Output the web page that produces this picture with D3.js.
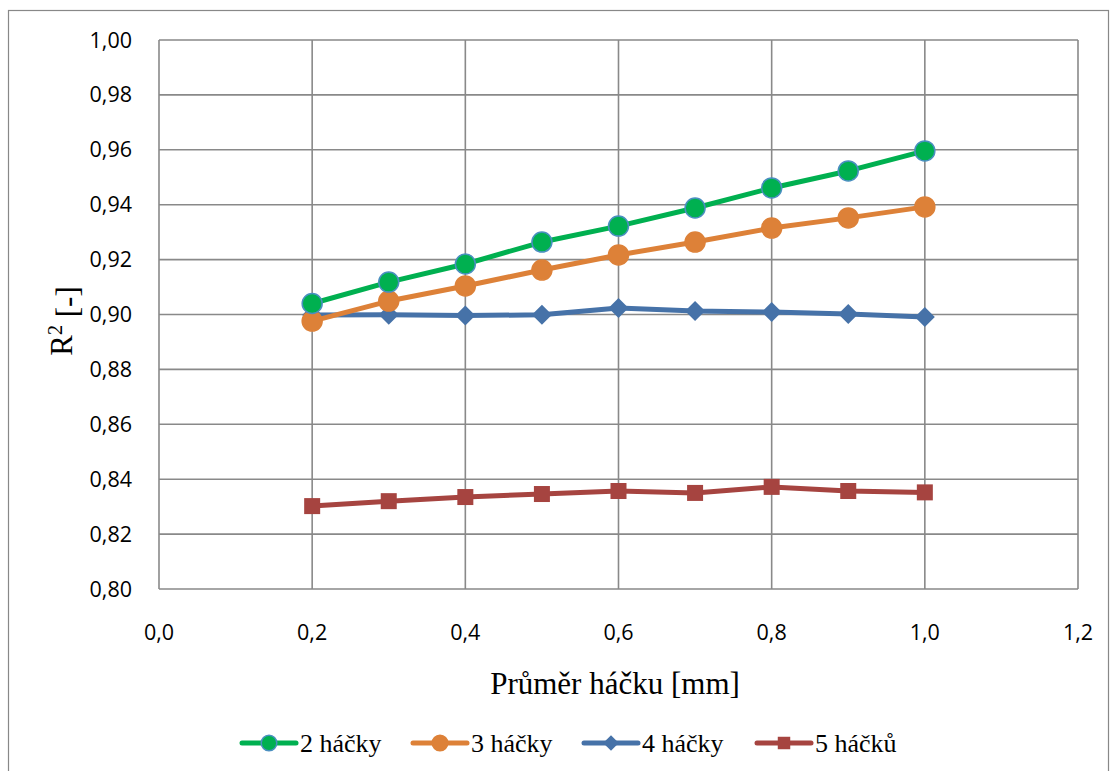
<!DOCTYPE html>
<html>
<head>
<meta charset="utf-8">
<script src="https://cdn.jsdelivr.net/npm/d3@7"></script>
<style>
  body { margin: 0; background: #fff; }
  svg { display: block; }
</style>
</head>
<body>
<div id="chart"></div>
<script>
const width = 1110;
const height = 771;

// data
const xValues = [0.2, 0.3, 0.4, 0.5, 0.6, 0.7, 0.8, 0.9, 1.0];
const hacky2 = [0.904, 0.9118, 0.9184, 0.9264, 0.9322, 0.9388, 0.9461, 0.9523, 0.9596];
const hacky3 = [0.8976, 0.9049, 0.9104, 0.9162, 0.9217, 0.9264, 0.9315, 0.9352, 0.9392];
const hacky4 = [0.8998, 0.8999, 0.8996, 0.8999, 0.9024, 0.9013, 0.9009, 0.9002, 0.8991];
const hacky5 = [0.8302, 0.8320, 0.8335, 0.8346, 0.8357, 0.8350, 0.8372, 0.8357, 0.8352];
const seriesNames = ["2 háčky", "3 háčky", "4 háčky", "5 háčků"];
const xTicks = [0, 0.2, 0.4, 0.6, 0.8, 1.0, 1.2];
const yTicks = [0.80, 0.82, 0.84, 0.86, 0.88, 0.90, 0.92, 0.94, 0.96, 0.98, 1.00];

const series = [
  { name: seriesNames[0], values: hacky2, color: "#00b050", stroke: "#4a8fc0", marker: "circle" },
  { name: seriesNames[1], values: hacky3, color: "#dd8138", stroke: "#dd8138", marker: "circle" },
  { name: seriesNames[2], values: hacky4, color: "#4672a8", stroke: "#4672a8", marker: "diamond" },
  { name: seriesNames[3], values: hacky5, color: "#a64440", stroke: "#a64440", marker: "square" }
];

const plot = { left: 159, top: 40, right: 1078, bottom: 589 };

const x = d3.scaleLinear().domain([0, 1.2]).range([plot.left, plot.right]);
const y = d3.scaleLinear().domain([0.80, 1.00]).range([plot.bottom, plot.top]);

const svg = d3.select("#chart").append("svg")
  .attr("width", width)
  .attr("height", height);

// outer frame
svg.append("rect")
  .attr("x", 8.5).attr("y", 10.5)
  .attr("width", 1100).attr("height", 770)
  .attr("fill", "none").attr("stroke", "#888").attr("stroke-width", 1.2);

// grid
svg.append("g").selectAll("line.h")
  .data(yTicks).enter().append("line")
  .attr("x1", plot.left).attr("x2", plot.right)
  .attr("y1", d => y(d)).attr("y2", d => y(d))
  .attr("stroke", "#898989").attr("stroke-width", 1.6);

svg.append("g").selectAll("line.v")
  .data(xTicks).enter().append("line")
  .attr("x1", d => x(d)).attr("x2", d => x(d))
  .attr("y1", plot.top).attr("y2", plot.bottom)
  .attr("stroke", "#898989").attr("stroke-width", 1.6);

const tickFont = "'Open Sans', 'DejaVu Sans', sans-serif";
const fmt = (d, n) => d.toFixed(n).replace(".", ",");

// y tick labels
svg.append("g").selectAll("text")
  .data(yTicks).enter().append("text")
  .attr("x", 132).attr("y", d => y(d))
  .attr("dy", "0.35em")
  .attr("text-anchor", "end")
  .attr("font-family", tickFont).attr("font-size", "21.5px").attr("fill", "#000")
  .text(d => fmt(d, 2));

// x tick labels
svg.append("g").selectAll("text")
  .data(xTicks).enter().append("text")
  .attr("x", d => x(d)).attr("y", 632)
  .attr("dy", "0.35em")
  .attr("text-anchor", "middle")
  .attr("font-family", tickFont).attr("font-size", "21.5px").attr("fill", "#000")
  .text(d => fmt(d, 1));

// axis titles
const titleFont = "'Liberation Serif', 'Times New Roman', serif";
svg.append("text")
  .attr("x", 615).attr("y", 694)
  .attr("text-anchor", "middle")
  .attr("font-family", titleFont).attr("font-size", "31px")
  .text("Průměr háčku [mm]");

const yt = svg.append("text")
  .attr("transform", "translate(72,321) rotate(-90)")
  .attr("text-anchor", "middle")
  .attr("font-family", titleFont).attr("font-size", "31px");
yt.append("tspan").text("R");
yt.append("tspan").attr("dy", "-0.5em").attr("font-size", "20px").text("2");
yt.append("tspan").attr("dy", "0.5em").text(" [-]");

// markers
function drawMarker(g, type, cx, cy, s, scale) {
  const k = scale || 1;
  if (type === "circle") {
    g.append("circle").attr("cx", cx).attr("cy", cy).attr("r", 10 * k)
      .attr("fill", s.color).attr("stroke", s.stroke).attr("stroke-width", 1.5);
  } else if (type === "diamond") {
    const r = 10 * k;
    g.append("path")
      .attr("d", `M${cx},${cy - r}L${cx + r},${cy}L${cx},${cy + r}L${cx - r},${cy}Z`)
      .attr("fill", s.color);
  } else {
    const h = 8 * k;
    g.append("rect").attr("x", cx - h).attr("y", cy - h)
      .attr("width", 2 * h).attr("height", 2 * h)
      .attr("fill", s.color);
  }
}

const line = d3.line()
  .x((d, i) => x(xValues[i]))
  .y(d => y(d));

// draw bottom series first so green ends up on top
const drawOrder = [3, 2, 1, 0];
drawOrder.forEach(idx => {
  const s = series[idx];
  const g = svg.append("g");
  g.append("path")
    .datum(s.values)
    .attr("d", line)
    .attr("fill", "none")
    .attr("stroke", s.color)
    .attr("stroke-width", 5)
    .attr("stroke-linejoin", "round");
  s.values.forEach((v, i) => drawMarker(g, s.marker, x(xValues[i]), y(v), s));
});

// legend
const legendX = [242, 413, 584, 757];
const legendY = 743;
series.forEach((s, i) => {
  const g = svg.append("g");
  const lx = legendX[i];
  g.append("line")
    .attr("x1", lx).attr("x2", lx + 54)
    .attr("y1", legendY).attr("y2", legendY)
    .attr("stroke", s.color).attr("stroke-width", 5).attr("stroke-linecap", "round");
  drawMarker(g, s.marker, lx + 27, legendY, s, 0.78);
  g.append("text")
    .attr("x", lx + 58).attr("y", legendY)
    .attr("dy", "0.33em")
    .attr("font-family", titleFont).attr("font-size", "26px")
    .text(s.name);
});
</script>
</body>
</html>
